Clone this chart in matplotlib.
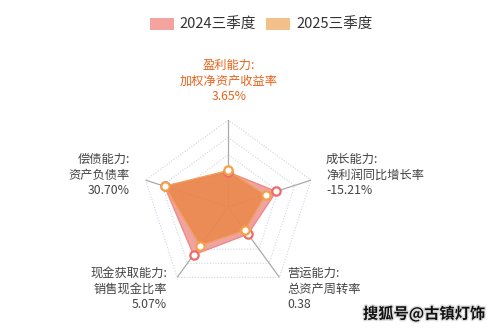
import numpy as np
import matplotlib
matplotlib.use("Agg")
from matplotlib import pyplot as plt
from matplotlib.patches import Patch
import matplotlib.patheffects as pe

plt.rcParams['font.family'] = ['Noto Sans CJK SC', 'DejaVu Sans']

# radar indicators, counter-clockwise from the top
indicators = ["盈利能力:\n加权净资产收益率", "偿债能力:\n资产负债率", "现金获取能力:\n销售现金比率",
              "营运能力:\n总资产周转率", "成长能力:\n净利润同比增长率"]
value_labels = ["3.65%", "30.70%", "5.07%", "0.38", "-15.21%"]
series_names = ["2024三季度", "2025三季度"]
# normalised radius on each indicator (0..1)
score_2024 = [0.40, 0.77, 0.68, 0.385, 0.58]
score_2025 = [0.42, 0.77, 0.55, 0.33, 0.45]

W, H = 501, 333
fig = plt.figure(figsize=(W / 100, H / 100), dpi=100)

cx, cy, R = 228.3, 207.0, 87.0
ax = fig.add_axes([(cx - R) / W, (H - cy - R) / H, 2 * R / W, 2 * R / H], polar=True)
ax.set_theta_zero_location('N')
ax.set_theta_direction(1)
ax.set_ylim(0, 1)
ax.axis('off')

n = len(indicators)
theta = np.arange(n) * 2 * np.pi / n
closed = np.append(theta, theta[0])

# dotted pentagon rings
for r in [0.2, 0.4, 0.6, 0.8, 1.0]:
    ax.plot(closed, [r] * (n + 1), color='#cdd4e4', lw=0.8, ls=(0, (1, 1.5)), zorder=1)
# spokes
for t in theta:
    ax.plot([t, t], [0, 1], color='#aaaaaa', lw=0.9, zorder=1)

def close(v):
    return np.append(v, v[0])

ax.fill(closed, close(score_2024), color='#ec8580', alpha=0.75, lw=0, zorder=2)
ax.plot(closed, close(score_2024), color='#ef8a86', lw=1, zorder=2)
ax.fill(closed, close(score_2025), color='#ea8744', alpha=0.8, lw=0, zorder=3)
ax.plot(closed, close(score_2025), color='#f0a060', lw=1, zorder=3)
ax.plot(theta, score_2024, 'o', ms=6, mfc='white', mec='#ee6b66', mew=1.6, zorder=4)
ax.plot(theta, score_2025, 'o', ms=6, mfc='white', mec='#f5a04a', mew=1.6, zorder=5)

# indicator labels: (x px, y px, ha, colour)
label_pos = [(229, 81, 'center', '#e8641b'),
             (130, 175, 'right', '#444444'),
             (167, 289, 'right', '#444444'),
             (287, 289, 'left', '#444444'),
             (326, 175, 'left', '#444444')]
for name, val, (x, y, ha, c) in zip(indicators, value_labels, label_pos):
    fig.text(x / W, 1 - y / H, name + "\n" + val, ha=ha, va='center', color=c,
             fontsize=8.8, linespacing=1.25, multialignment=ha)

handles = [Patch(facecolor='#f4a3a0', edgecolor='none'),
           Patch(facecolor='#f3c08a', edgecolor='none')]
fig.legend(handles, series_names, loc='center', bbox_to_anchor=(261 / W, 1 - 25 / H),
           ncol=2, frameon=False, fontsize=10.5, handlelength=1.65, handleheight=0.9,
           handletextpad=0.4, columnspacing=0.7, labelcolor='#333333')

fig.text(424 / W, 1 - 314 / H, "搜狐号@古镇灯饰", ha='center', va='center', fontsize=11,
         fontweight='bold', color='#111111',
         path_effects=[pe.withStroke(linewidth=2, foreground='#dddddd')])

fig.savefig("out.png", dpi=100)
